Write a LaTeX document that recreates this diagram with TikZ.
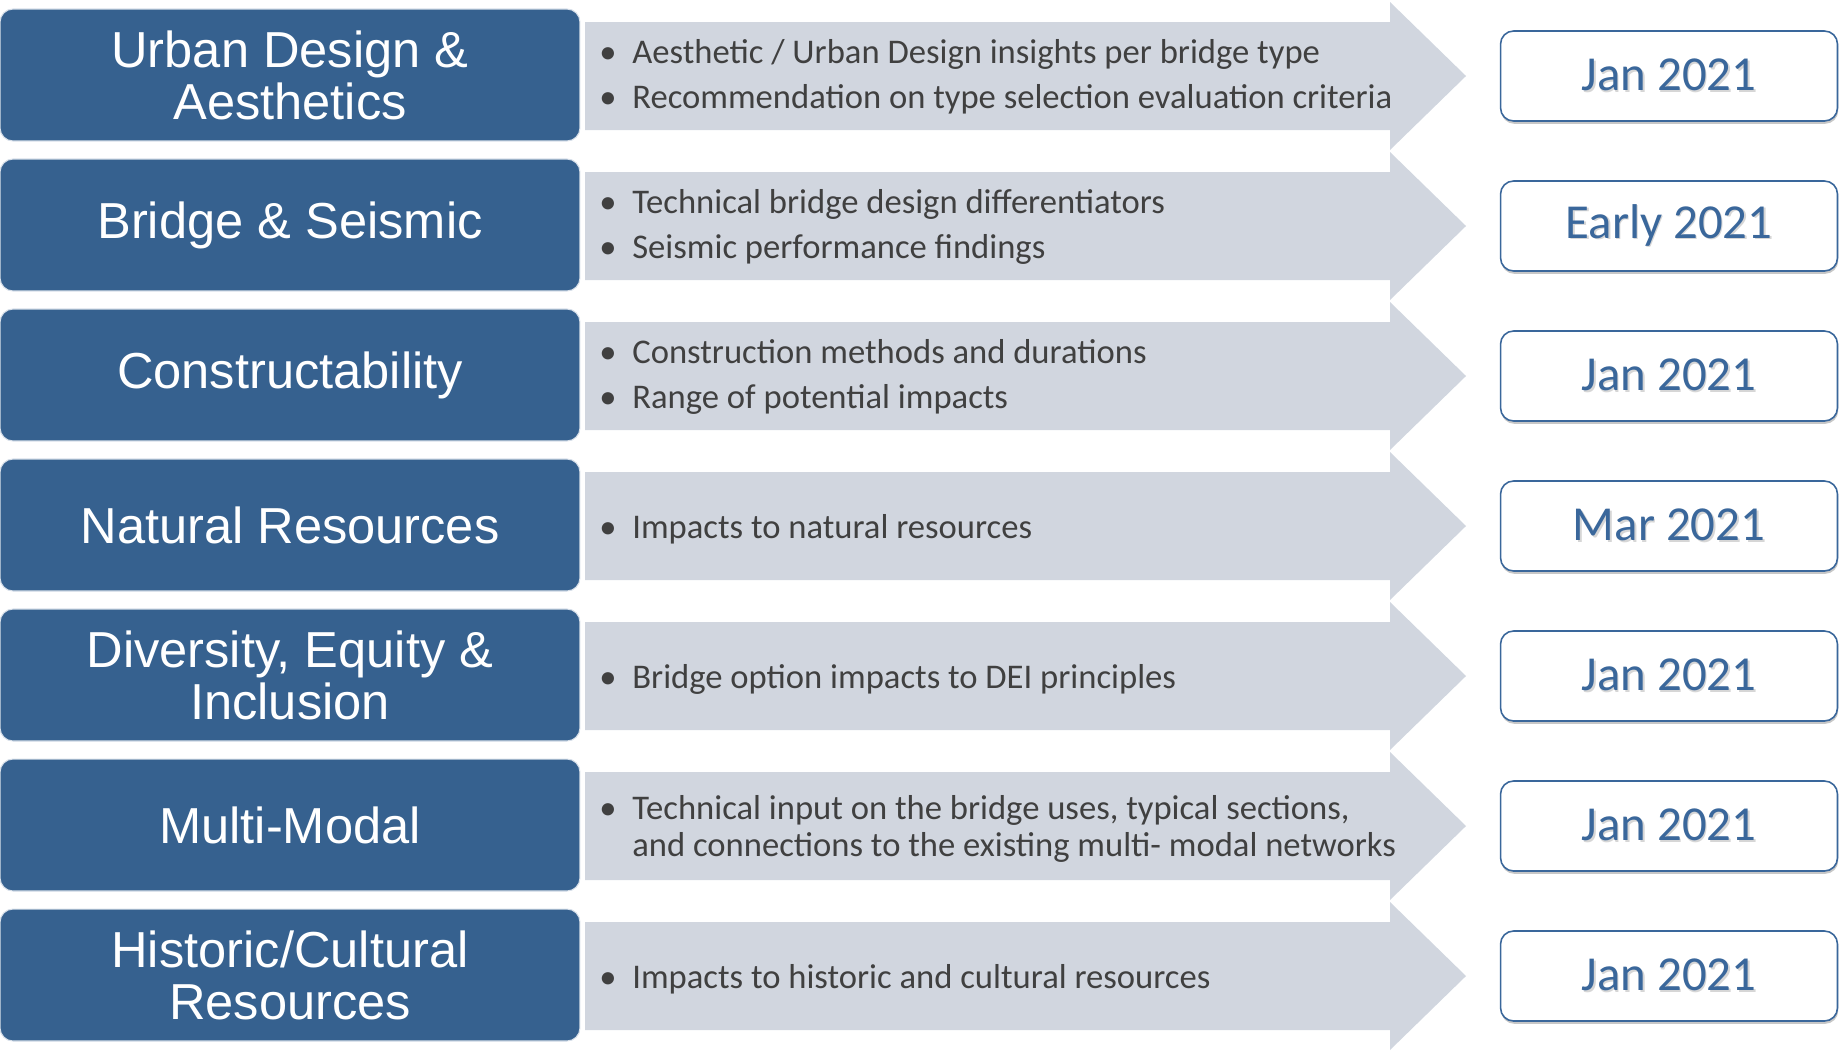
\documentclass[tikz,border=0pt]{standalone}
\usepackage{fontspec}
\setmainfont{Carlito}
\newfontfamily\arialfont{Liberation Sans}
\usepackage{xcolor}
\usetikzlibrary{shadows}

\definecolor{boxblue}{HTML}{36618F}
\definecolor{arrowgray}{HTML}{D1D6DF}
\definecolor{dateblue}{HTML}{3A679B}
\definecolor{bulgray}{HTML}{404040}

\newcommand{\bul}{\makebox[0.66cm][l]{\textbullet}}
\newcommand{\nobul}{\hspace*{0.66cm}}
% soft grey copy under the date text
\newcommand{\shtext}[1]{\makebox[0pt][l]{\hspace{0.9pt}\raisebox{-1.1pt}{\textcolor{black!16}{#1}}}#1}

\begin{document}
\begin{tikzpicture}[x=0.02cm,y=-0.02cm,
  topic/.style={fill=boxblue, draw=white!80!boxblue, line width=0.6pt, rounded corners=0.26cm,
    minimum width=11.6cm, minimum height=2.64cm, inner sep=0pt, align=center,
    text=white, font=\arialfont\fontsize{28.8}{29.5}\selectfont},
  items/.style={anchor=west, align=left, inner sep=0pt, text=bulgray,
    font=\fontsize{19.7}{21.4}\selectfont},
  datebox/.style={draw=dateblue, line width=0.9pt, fill=white, rounded corners=0.26cm,
    minimum width=6.74cm, minimum height=1.8cm, inner sep=0pt, text=dateblue,
    font=\fontsize{27.8}{27.8}\selectfont,
    drop shadow={shadow xshift=0.4pt, shadow yshift=-1.6pt, opacity=0.22, fill=black}}]
  \useasboundingbox (0,0) rectangle (1841,1052);

  % grey arrows behind the text
  \fill[arrowgray] (585,22)  -- (1390,22)  -- (1390,2)   -- (1466,76)  -- (1390,150)  -- (1390,130)  -- (585,130)  -- cycle;
  \fill[arrowgray] (585,172) -- (1390,172) -- (1390,152) -- (1466,226) -- (1390,300)  -- (1390,280)  -- (585,280)  -- cycle;
  \fill[arrowgray] (585,322) -- (1390,322) -- (1390,302) -- (1466,376) -- (1390,450)  -- (1390,430)  -- (585,430)  -- cycle;
  \fill[arrowgray] (585,472) -- (1390,472) -- (1390,452) -- (1466,526) -- (1390,600)  -- (1390,580)  -- (585,580)  -- cycle;
  \fill[arrowgray] (585,622) -- (1390,622) -- (1390,602) -- (1466,676) -- (1390,750)  -- (1390,730)  -- (585,730)  -- cycle;
  \fill[arrowgray] (585,772) -- (1390,772) -- (1390,752) -- (1466,826) -- (1390,900)  -- (1390,880)  -- (585,880)  -- cycle;
  \fill[arrowgray] (585,922) -- (1390,922) -- (1390,902) -- (1466,976) -- (1390,1050) -- (1390,1030) -- (585,1030) -- cycle;

  % topics
  \node[topic] (urban)   at (290,75)  {Urban Design \&\\Aesthetics};
  \node[topic] (seismic) at (290,225) {Bridge \& Seismic};
  \node[topic] (constr)  at (290,375) {Constructability};
  \node[topic] (natural) at (290,525) {Natural Resources};
  \node[topic] (dei)     at (290,675) {Diversity, Equity \&\\Inclusion};
  \node[topic] (modal)   at (290,825) {Multi-Modal};
  \node[topic] (histor)  at (290,975) {Historic/Cultural\\Resources};

  % findings
  \node[items] (urbant)   at (599,77)  {\bul Aesthetic / Urban Design insights per bridge type\\[4.2pt]
    \bul Recommendation on type selection evaluation criteria};
  \node[items] (seismict) at (599,227) {\bul Technical bridge design differentiators\\[4.2pt]
    \bul Seismic performance findings};
  \node[items] (constrt)  at (599,377) {\bul Construction methods and durations\\[4.2pt]
    \bul Range of potential impacts};
  \node[items] (naturalt) at (599,529) {\bul Impacts to natural resources};
  \node[items] (deit)     at (599,679) {\bul Bridge option impacts to DEI principles};
  \node[items] (modalt)   at (599,829) {\bul Technical input on the bridge uses, typical sections,\\
    \nobul and connections to the existing multi- modal networks};
  \node[items] (histort)  at (599,979) {\bul Impacts to historic and cultural resources};

  % dates
  \node[datebox] (urband)   at (1669,76)  {\shtext{Jan 2021}};
  \node[datebox] (seismicd) at (1669,226) {\shtext{Early 2021}};
  \node[datebox] (constrd)  at (1669,376) {\shtext{Jan 2021}};
  \node[datebox] (naturald) at (1669,526) {\shtext{Mar 2021}};
  \node[datebox] (deid)     at (1669,676) {\shtext{Jan 2021}};
  \node[datebox] (modald)   at (1669,826) {\shtext{Jan 2021}};
  \node[datebox] (histord)  at (1669,976) {\shtext{Jan 2021}};
\end{tikzpicture}
\end{document}
